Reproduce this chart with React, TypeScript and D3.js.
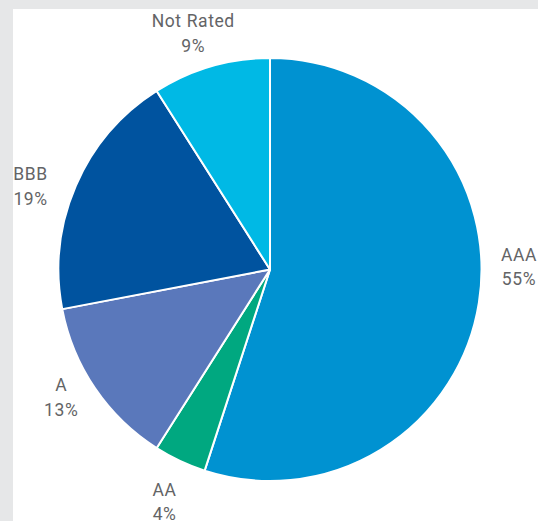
import React from "react";
import * as d3 from "d3";

const categories = ["AAA", "AA", "A", "BBB", "Not Rated"];
const values = [55, 4, 13, 19, 9];
const labels = ["55%", "4%", "13%", "19%", "9%"];
const colors = ["#0092d1", "#00a880", "#5a78bb", "#00539f", "#00b9e5"];

const W = 538;
const H = 521;
const CX = 270;
const CY = 269.5;
const R = 211.5;
const LABEL_R = 250;

// layout nudges for label blocks (Excel-style placement)
const nudges: Record<string, [number, number]> = {
  AAA: [2, -42],
  AA: [1, 6],
  A: [-2, -13],
  BBB: [-10, 16],
  "Not Rated": [-7, 4],
};

export default function App() {
  const data = categories.map((c, i) => ({ c, v: values[i], l: labels[i], col: colors[i] }));
  const pie = d3.pie<any>().sort(null).value((d) => d.v);
  const arcs = pie(data);
  const arc = d3.arc<any>().innerRadius(0).outerRadius(R);

  return (
    <div style={{ position: "absolute", left: 0, top: 0, width: W, height: H }}>
      <svg width={W} height={H} style={{ display: "block" }}>
        <rect x={0} y={0} width={W} height={H} fill="#e6e7e8" />
        <rect x={13} y={9} width={W - 13} height={H - 9} fill="#ffffff" />
        <g transform={`translate(${CX},${CY})`}>
          {arcs.map((a, i) => (
            <path key={i} d={arc(a) as string} fill={a.data.col} stroke="#ffffff" strokeWidth={2} strokeLinejoin="round" />
          ))}
          {arcs.map((a, i) => {
            const mid = (a.startAngle + a.endAngle) / 2;
            const n = nudges[a.data.c] || [0, 0];
            const x = LABEL_R * Math.sin(mid) + n[0];
            const y = -LABEL_R * Math.cos(mid) + n[1];
            return (
              <text
                key={"t" + i}
                x={x}
                y={y}
                textAnchor="middle"
                fontFamily="Roboto, 'Noto Sans', sans-serif"
                fontSize={17.5}
                fontWeight={400}
                letterSpacing={0.6}
                fill="#636466"
              >
                <tspan x={x} dy={-6}>{a.data.c}</tspan>
                <tspan x={x} dy={24.5}>{a.data.l}</tspan>
              </text>
            );
          })}
        </g>
      </svg>
    </div>
  );
}
